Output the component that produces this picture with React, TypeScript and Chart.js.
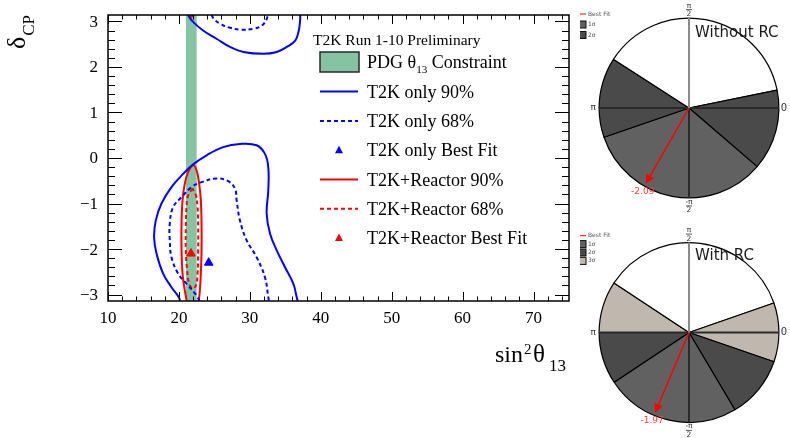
import React, { useEffect, useRef } from "react";
import { Chart, registerables } from "chart.js";
Chart.register(...registerables);

const PI = Math.PI;
const SERIF = '"Liberation Serif", "DejaVu Serif", serif';
const SANS = '"DejaVu Sans", "Liberation Sans", sans-serif';

// ---------- main plot: axes ----------
const xMin = 10;
const xMax = 75;
const xTickValues = [10, 20, 30, 40, 50, 60, 70];
const xTickLabels = ["10", "20", "30", "40", "50", "60", "70"];
const yTickValues = [-3, -2, -1, 0, 1, 2, 3];
const yTickLabels = ["\u22123", "\u22122", "\u22121", "0", "1", "2", "3"];

// ---------- main plot: data (sin^2 theta13 x 1e-3, deltaCP) ----------
const pdgBand = [21.0, 22.5];

const t2k90Top: [number, number][] = [
  [21.25, PI], [22.0, 2.99], [23.4, 2.8], [25.3, 2.62], [27.2, 2.44], [29.1, 2.33],
  [31.9, 2.29], [33.8, 2.33], [35.2, 2.44], [36.4, 2.58], [36.9, 2.8], [37.1, 3.05], [37.1, PI],
];
const t2k90Bottom: [number, number][] = [
  [20.15, -PI], [19.99, -3.06], [18.95, -2.84], [17.77, -2.54], [16.84, -2.1], [16.5, -1.74],
  [16.74, -1.37], [17.54, -1.0], [18.95, -0.64], [20.59, -0.35], [22.01, -0.14], [23.9, 0.06],
  [26.24, 0.24], [28.6, 0.31], [30.96, 0.28], [32.13, 0.09], [32.6, -0.2], [32.6, -0.71],
  [32.37, -1.22], [32.84, -1.66], [33.79, -2.03], [34.96, -2.4], [36.13, -2.76], [36.61, -3.06], [36.75, -PI],
];
const t2k68Top: [number, number][] = [
  [24.6, PI], [24.9, 3.06], [25.8, 2.95], [27.2, 2.86], [28.8, 2.82], [30.5, 2.84],
  [31.7, 2.91], [32.4, 3.06], [32.5, PI],
];
const t2k68Bottom: [number, number][] = [
  [22.9, -PI], [22.49, -3.02], [21.07, -2.76], [19.89, -2.54], [18.95, -2.18], [18.71, -1.81],
  [18.71, -1.44], [19.18, -1.08], [20.37, -0.86], [21.78, -0.64], [23.19, -0.53], [25.31, -0.45],
  [26.95, -0.51], [27.9, -0.67], [28.14, -0.93], [28.6, -1.37], [29.55, -1.81], [30.96, -2.18],
  [32.13, -2.62], [32.6, -3.06], [32.7, -PI],
];
const reactor90: [number, number][] = [
  [21.1, -PI], [20.83, -2.91], [20.51, -2.54], [20.37, -2.03], [20.37, -1.44], [20.51, -0.93],
  [20.83, -0.56], [21.3, -0.31], [22.01, -0.16], [22.49, -0.27], [22.85, -0.56], [23.09, -0.93],
  [23.19, -1.44], [23.19, -2.03], [23.09, -2.54], [22.95, -2.91], [22.8, -PI],
];
const reactor90Top: [number, number][] = [[21.6, PI], [21.78, 3.1], [21.95, PI]];
const reactor68: [number, number][] = [
  [21.92, -0.67], [21.3, -0.82], [21.07, -1.08], [20.97, -1.52], [20.97, -2.03], [21.16, -2.47],
  [21.44, -2.76], [21.92, -2.87], [22.39, -2.8], [22.63, -2.54], [22.71, -2.03], [22.71, -1.52],
  [22.63, -1.08], [22.39, -0.82], [21.92, -0.67],
];
const t2kBestFit: [number, number] = [24.2, -2.3];
const reactorBestFit: [number, number] = [21.7, -2.1];

const legendTitle = "T2K Run 1-10 Preliminary";
const legendLabels = [
  "PDG \u03b8|13| Constraint",
  "T2K only 90%",
  "T2K only 68%",
  "T2K only Best Fit",
  "T2K+Reactor 90%",
  "T2K+Reactor 68%",
  "T2K+Reactor Best Fit",
];

// ---------- pies: deltaCP intervals (radians) ----------
const sigma1NoRC: [number, number][] = [[-2.81, -0.71]];
const sigma2NoRC: [number, number][] = [[-0.71, 0.2], [2.57, PI], [-PI, -2.81]];
const bestFitNoRC = -2.09;

const sigma1RC: [number, number][] = [[-2.555, -1.035]];
const sigma2RC: [number, number][] = [[-1.035, -0.332], [-PI, -2.555]];
const sigma3RC: [number, number][] = [[-0.332, 0.335], [2.557, PI]];
const bestFitRC = -1.97;

const COL_BAND = "#85c3a3";
const COL_1S = "#616161";
const COL_2S = "#4a4a4a";
const COL_3S = "#c0b8ae";

const toPts = (a: [number, number][]) => a.map(([x, y]) => ({ x, y }));

function drawRich(ctx: CanvasRenderingContext2D, text: string, x: number, y: number, size: number, font: string) {
  const parts = text.split("|");
  let cx = x;
  parts.forEach((t, i) => {
    const sub = i % 2 === 1;
    const s = sub ? size * 0.62 : size;
    ctx.font = `${s}px ${font}`;
    ctx.fillText(t, cx, y + (sub ? size * 0.28 : 0));
    cx += ctx.measureText(t).width;
  });
}

const mainDecor = {
  id: "mainDecor",
  beforeDatasetsDraw(chart: any) {
    const { ctx, chartArea: a, scales } = chart;
    const x1 = scales.x.getPixelForValue(pdgBand[0]);
    const x2 = scales.x.getPixelForValue(pdgBand[1]);
    ctx.save();
    ctx.fillStyle = COL_BAND;
    ctx.fillRect(x1, a.top, x2 - x1, a.bottom - a.top);
    ctx.restore();
  },
  afterDatasetsDraw(chart: any) {
    const { ctx, chartArea: a, scales } = chart;
    const sx = scales.x, sy = scales.y;
    ctx.save();
    // ticks
    ctx.strokeStyle = "#000";
    ctx.lineWidth = 1;
    ctx.beginPath();
    for (let i = 0; i <= 32; i++) {
      const v = xMin + i * 2;
      if (v > xMax) break;
      const px = Math.round(sx.getPixelForValue(v)) + 0.5;
      const len = v % 10 === 0 ? 9 : 4.5;
      ctx.moveTo(px, a.bottom); ctx.lineTo(px, a.bottom - len);
      ctx.moveTo(px, a.top); ctx.lineTo(px, a.top + len);
    }
    for (let i = -15; i <= 15; i++) {
      const v = i * 0.2;
      const py = Math.round(sy.getPixelForValue(v)) + 0.5;
      const len = i % 5 === 0 ? 14 : 7;
      ctx.moveTo(a.left, py); ctx.lineTo(a.left + len, py);
      ctx.moveTo(a.right, py); ctx.lineTo(a.right - len, py);
    }
    ctx.stroke();
    // frame
    ctx.lineWidth = 1.5;
    ctx.strokeRect(a.left, a.top, a.right - a.left, a.bottom - a.top);

    // tick labels
    ctx.fillStyle = "#000";
    ctx.font = `17px ${SERIF}`;
    ctx.textAlign = "right";
    ctx.textBaseline = "middle";
    yTickValues.forEach((v, i) => ctx.fillText(yTickLabels[i], a.left - 10, sy.getPixelForValue(v) + 1));
    ctx.textAlign = "center";
    ctx.textBaseline = "top";
    xTickValues.forEach((v, i) => ctx.fillText(xTickLabels[i], sx.getPixelForValue(v), a.bottom + 9));

    // x title: sin^2 theta_13
    ctx.textAlign = "left";
    ctx.textBaseline = "alphabetic";
    ctx.font = `24px ${SERIF}`;
    ctx.fillText("sin", 495, 362);
    ctx.font = `15px ${SERIF}`;
    ctx.fillText("2", 524, 354);
    ctx.font = `25px ${SERIF}`;
    ctx.fillText("\u03b8", 533, 362);
    ctx.font = `17px ${SERIF}`;
    ctx.fillText("13", 549, 371);

    // y title: delta_CP (rotated)
    ctx.save();
    ctx.translate(25, 49);
    ctx.rotate(-PI / 2);
    ctx.font = `26px ${SERIF}`;
    ctx.fillText("\u03b4", 0, 0);
    const dw = ctx.measureText("\u03b4").width;
    ctx.font = `17px ${SERIF}`;
    ctx.fillText("CP", dw + 1, 9);
    ctx.restore();

    // legend
    ctx.font = `15.5px ${SERIF}`;
    ctx.fillText(legendTitle, 313, 45);
    const rowY = (i: number) => 62.3 + i * 29.3;
    // band box
    ctx.fillStyle = COL_BAND;
    ctx.fillRect(320, 52, 39, 20);
    ctx.strokeStyle = "#2a2a2a";
    ctx.lineWidth = 1.5;
    ctx.strokeRect(320, 52, 39, 20);
    const lineRow = (i: number, color: string, dash: number[]) => {
      ctx.strokeStyle = color;
      ctx.lineWidth = 2;
      ctx.setLineDash(dash);
      ctx.beginPath();
      ctx.moveTo(320, rowY(i)); ctx.lineTo(358, rowY(i));
      ctx.stroke();
      ctx.setLineDash([]);
    };
    const triRow = (i: number, color: string) => {
      const cx = 339, cy = rowY(i);
      ctx.fillStyle = color;
      ctx.beginPath();
      ctx.moveTo(cx, cy - 4.5); ctx.lineTo(cx + 4, cy + 3); ctx.lineTo(cx - 4, cy + 3);
      ctx.closePath();
      ctx.fill();
    };
    lineRow(1, "#0000ff", []);
    lineRow(2, "#0000ff", [4, 3]);
    triRow(3, "#0000ff");
    lineRow(4, "#ff0000", []);
    lineRow(5, "#ff0000", [4, 3]);
    triRow(6, "#ff0000");
    ctx.fillStyle = "#000";
    legendLabels.forEach((lab, i) => drawRich(ctx, lab, 367, rowY(i) + 6, 18, SERIF));
    ctx.restore();
  },
};

function mainConfig(): any {
  const line = (pts: [number, number][], color: string, dash: number[]) => ({
    data: toPts(pts),
    showLine: true,
    borderColor: color,
    borderWidth: 2,
    borderDash: dash,
    pointRadius: 0,
    tension: 0.4,
    fill: false,
  });
  const marker = (p: [number, number], color: string) => ({
    data: [{ x: p[0], y: p[1] }],
    showLine: false,
    pointStyle: "triangle",
    pointRadius: 5,
    backgroundColor: color,
    borderColor: color,
    borderWidth: 1,
  });
  return {
    type: "scatter",
    data: {
      datasets: [
        line(t2k90Top, "#0000ff", []),
        line(t2k90Bottom, "#0000ff", []),
        line(t2k68Top, "#0000ff", [4, 3]),
        line(t2k68Bottom, "#0000ff", [4, 3]),
        line(reactor90, "#ff0000", []),
        line(reactor90Top, "#ff0000", []),
        line(reactor68, "#ff0000", [4, 3]),
        marker(t2kBestFit, "#0000ff"),
        marker(reactorBestFit, "#ff0000"),
      ],
    },
    options: {
      animation: false,
      responsive: false,
      devicePixelRatio: 1,
      events: [],
      layout: { padding: { left: 108, right: 221, top: 15, bottom: 137 } },
      scales: {
        x: { type: "linear", min: xMin, max: xMax, display: false },
        y: { type: "linear", min: -PI, max: PI, display: false },
      },
      plugins: { legend: { display: false }, tooltip: { enabled: false } },
    },
    plugins: [mainDecor],
  };
}

type Region = { intervals: [number, number][]; color: string };
function buildSegments(regions: Region[]) {
  const segs: { from: number; to: number; color: string }[] = [];
  regions.forEach((r) => r.intervals.forEach(([a, b]) => segs.push({ from: a, to: b, color: r.color })));
  segs.sort((p, q) => q.from - p.from);
  const out: { span: number; color: string }[] = [];
  let cur = PI;
  segs.forEach((s) => {
    if (s.to < cur - 1e-6) out.push({ span: cur - s.to, color: "#ffffff" });
    out.push({ span: s.to - s.from, color: s.color });
    cur = s.from;
  });
  if (cur > -PI + 1e-6) out.push({ span: cur + PI, color: "#ffffff" });
  return out;
}

type PieOpts = {
  regions: Region[];
  legend: { label: string; color: string }[];
  bestFit: number;
  bestFitLabel: string;
  title: string;
  padding: { left: number; right: number; top: number; bottom: number };
  legendY0: number;
  legendStep: number;
  titleY: number;
};

function pieConfig(o: PieOpts): any {
  const segs = buildSegments(o.regions);
  const decor = {
    id: "pieDecor",
    afterDraw(chart: any) {
      const { ctx } = chart;
      const arc: any = chart.getDatasetMeta(0).data[0];
      const cx = arc.x, cy = arc.y, R = arc.outerRadius;
      ctx.save();
      // axes lines
      ctx.lineWidth = 2;
      ctx.strokeStyle = "#2a2a2a";
      ctx.beginPath();
      ctx.moveTo(cx - R, cy); ctx.lineTo(cx + R, cy);
      ctx.moveTo(cx, cy); ctx.lineTo(cx, cy + R);
      ctx.stroke();
      ctx.strokeStyle = "#8a8a8a";
      ctx.beginPath();
      ctx.moveTo(cx, cy); ctx.lineTo(cx, cy - R);
      ctx.stroke();

      // angle labels
      ctx.fillStyle = "#333";
      ctx.textAlign = "center";
      ctx.textBaseline = "middle";
      const frac = (yy: number, minus: boolean) => {
        ctx.font = `7.5px ${SANS}`;
        ctx.fillText((minus ? "-" : "") + "\u03c0", cx, yy - 4);
        ctx.fillText("2", cx, yy + 4.5);
        ctx.lineWidth = 0.8;
        ctx.strokeStyle = "#333";
        ctx.beginPath();
        ctx.moveTo(cx - 3, yy); ctx.lineTo(cx + 3, yy);
        ctx.stroke();
      };
      frac(cy - R - 8.5, false);
      frac(cy + R + 8, true);
      ctx.font = `9px ${SANS}`;
      ctx.fillText("\u03c0", cx - R - 6, cy);
      ctx.font = `10px ${SANS}`;
      ctx.fillText("0", cx + R + 5, cy);

      // best fit arrow
      const L = R * 0.97;
      const th = o.bestFit;
      const tx = cx + L * Math.cos(th), ty = cy - L * Math.sin(th);
      const ux = Math.cos(th), uy = -Math.sin(th);
      const hl = 9, hw = 4.5;
      ctx.strokeStyle = "#ff0000";
      ctx.fillStyle = "#ff0000";
      ctx.lineWidth = 1.5;
      ctx.beginPath();
      ctx.moveTo(cx, cy); ctx.lineTo(tx - ux * hl, ty - uy * hl);
      ctx.stroke();
      ctx.beginPath();
      ctx.moveTo(tx, ty);
      ctx.lineTo(tx - ux * hl - uy * hw, ty - uy * hl + ux * hw);
      ctx.lineTo(tx - ux * hl + uy * hw, ty - uy * hl - ux * hw);
      ctx.closePath();
      ctx.fill();
      ctx.fillStyle = "#ff3a3a";
      ctx.font = `9px ${SANS}`;
      ctx.fillText(o.bestFitLabel, tx - 3, ty + 8);

      // title
      ctx.fillStyle = "#1a1a1a";
      ctx.textAlign = "left";
      ctx.textBaseline = "alphabetic";
      ctx.font = `15px ${SANS}`;
      ctx.fillText(o.title, 115, o.titleY);

      // mini legend
      ctx.textBaseline = "middle";
      ctx.font = `6px ${SANS}`;
      let yy = o.legendY0;
      ctx.strokeStyle = "#ff0000";
      ctx.lineWidth = 1;
      ctx.beginPath();
      ctx.moveTo(0, yy); ctx.lineTo(6, yy);
      ctx.stroke();
      ctx.fillStyle = "#555";
      ctx.fillText("Best Fit", 8, yy);
      o.legend.forEach((l) => {
        yy += o.legendStep;
        ctx.fillStyle = l.color;
        ctx.fillRect(-1, yy - 3.5, 7, 7);
        ctx.strokeStyle = "#111";
        ctx.lineWidth = 1;
        ctx.strokeRect(-0.5, yy - 3.5, 6.5, 7);
        ctx.fillStyle = "#555";
        ctx.fillText(l.label, 8, yy);
      });
      ctx.restore();
    },
  };
  return {
    type: "pie",
    data: {
      labels: segs.map((_, i) => String(i)),
      datasets: [
        {
          data: segs.map((s) => s.span),
          backgroundColor: segs.map((s) => s.color),
          borderColor: "#000",
          borderWidth: 1.2,
        },
      ],
    },
    options: {
      animation: false,
      responsive: false,
      devicePixelRatio: 1,
      events: [],
      rotation: 270,
      layout: { padding: o.padding },
      plugins: { legend: { display: false }, tooltip: { enabled: false } },
    },
    plugins: [decor],
  };
}

export default function App() {
  const mainRef = useRef<HTMLCanvasElement>(null);
  const pie1Ref = useRef<HTMLCanvasElement>(null);
  const pie2Ref = useRef<HTMLCanvasElement>(null);

  useEffect(() => {
    const charts: Chart[] = [];
    charts.push(new Chart(mainRef.current as HTMLCanvasElement, mainConfig()));
    charts.push(
      new Chart(
        pie1Ref.current as HTMLCanvasElement,
        pieConfig({
          regions: [
            { intervals: sigma1NoRC, color: COL_1S },
            { intervals: sigma2NoRC, color: COL_2S },
          ],
          legend: [
            { label: "1\u03c3", color: COL_1S },
            { label: "2\u03c3", color: COL_2S },
          ],
          bestFit: bestFitNoRC,
          bestFitLabel: String(bestFitNoRC),
          title: "Without RC",
          padding: { left: 18.5, right: 10.5, top: 17.5, bottom: 19.5 },
          legendY0: 14,
          legendStep: 10.5,
          titleY: 36.5,
        })
      )
    );
    charts.push(
      new Chart(
        pie2Ref.current as HTMLCanvasElement,
        pieConfig({
          regions: [
            { intervals: sigma1RC, color: COL_1S },
            { intervals: sigma2RC, color: COL_2S },
            { intervals: sigma3RC, color: COL_3S },
          ],
          legend: [
            { label: "1\u03c3", color: COL_1S },
            { label: "2\u03c3", color: COL_2S },
            { label: "3\u03c3", color: COL_3S },
          ],
          bestFit: bestFitRC,
          bestFitLabel: String(bestFitRC),
          title: "With RC",
          padding: { left: 18.5, right: 10.5, top: 22, bottom: 15 },
          legendY0: 15.7,
          legendStep: 8.4,
          titleY: 40,
        })
      )
    );
    return () => charts.forEach((c) => c.destroy());
  }, []);

  return (
    <div style={{ position: "fixed", left: 0, top: 0, width: 790, height: 438, background: "#fff", overflow: "hidden" }}>
      <canvas ref={mainRef} width={790} height={438} style={{ position: "absolute", left: 0, top: 0, width: 790, height: 438 }} />
      <canvas ref={pie1Ref} width={210} height={218} style={{ position: "absolute", left: 580, top: 0, width: 210, height: 218 }} />
      <canvas ref={pie2Ref} width={210} height={218} style={{ position: "absolute", left: 580, top: 220, width: 210, height: 218 }} />
    </div>
  );
}
